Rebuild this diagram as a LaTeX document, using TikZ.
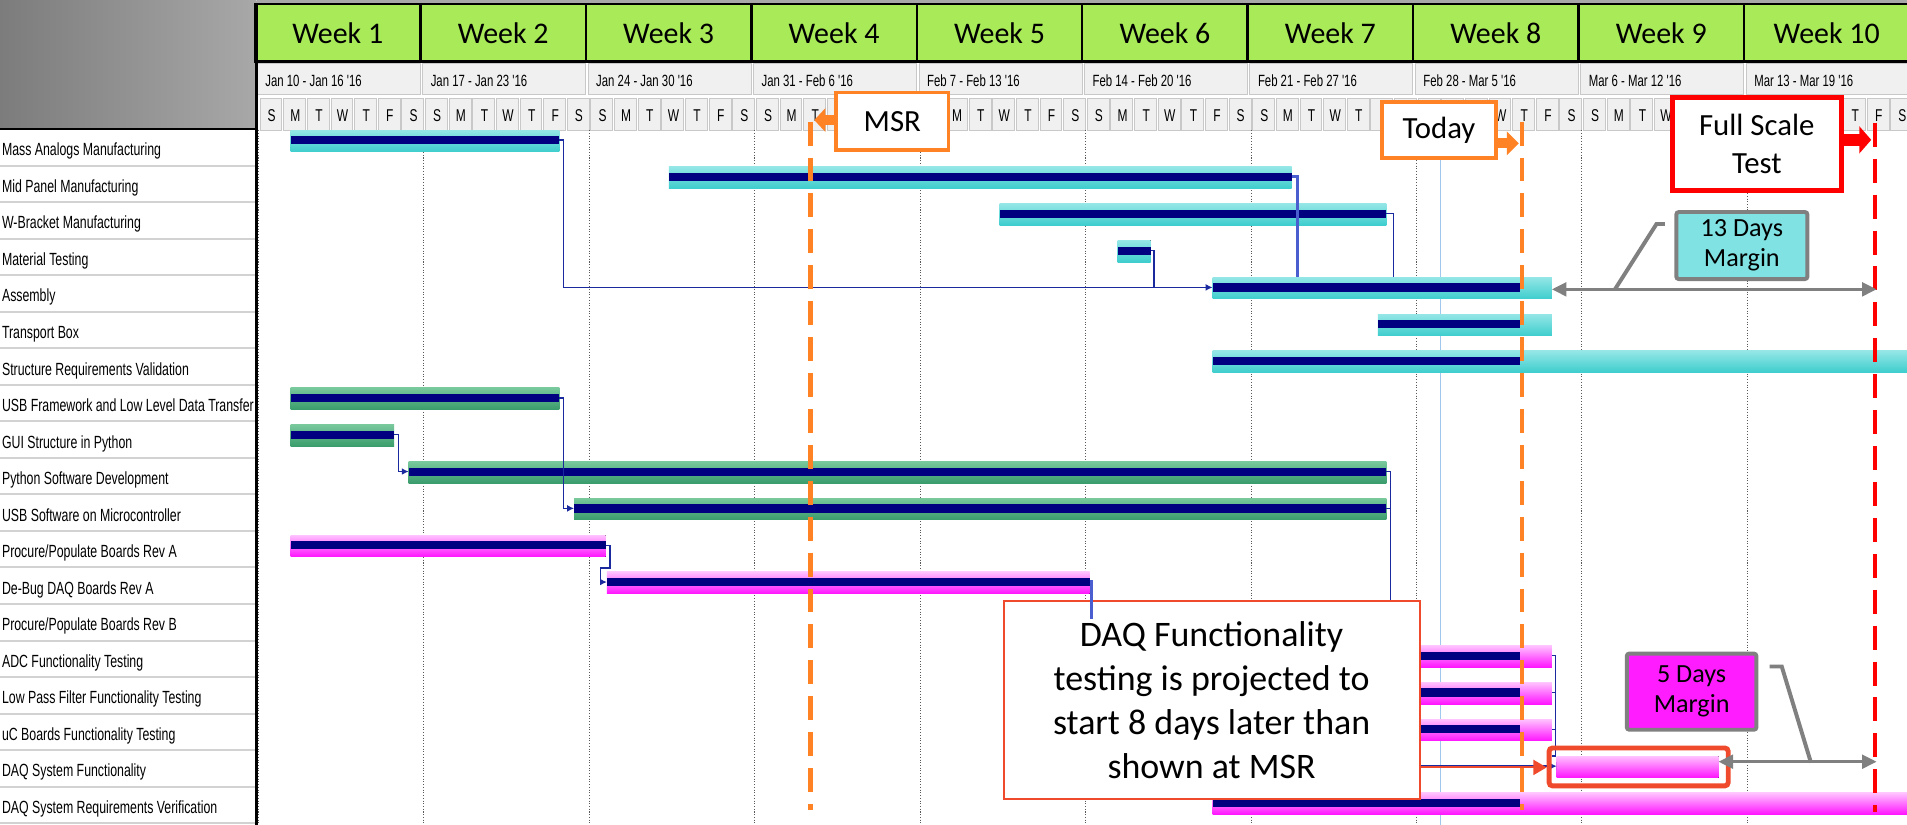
\documentclass[tikz,border=0pt]{standalone}
\usepackage{fontspec}
\usetikzlibrary{arrows.meta}
\newfontfamily\ganttfont[FakeStretch=0.7]{Liberation Sans}
\newfontfamily\callfont{Carlito}

\definecolor{weekgreen}{HTML}{A9EA58}
\definecolor{cellgray}{HTML}{F0F0F0}
\definecolor{celledge}{HTML}{C8C8C8}
\definecolor{rowline}{HTML}{D2D2D2}
\definecolor{leftgray}{HTML}{7C7C7C}
\definecolor{rightgray}{HTML}{A8A8A8}
\definecolor{cyantop}{HTML}{94E6E6}
\definecolor{cyanbot}{HTML}{3ECDCD}
\definecolor{greentop}{HTML}{78C89C}
\definecolor{greenbot}{HTML}{3A9C6C}
\definecolor{magtop}{HTML}{FFC2FF}
\definecolor{magbot}{HTML}{FF14FF}
\definecolor{progress}{HTML}{000080}
\definecolor{linkblue}{HTML}{1A2A9E}
\definecolor{linklight}{HTML}{4A5ED0}
\definecolor{statusblue}{HTML}{A0C8EE}
\definecolor{msrorange}{HTML}{FF8224}
\definecolor{fstred}{HTML}{FF0000}
\definecolor{daqred}{HTML}{F04A2C}
\definecolor{margingray}{HTML}{808080}
\definecolor{margincyan}{HTML}{80E2E2}
\definecolor{marginmag}{HTML}{FF1CFF}

%% one task bar: row, start, end, end of progress, colour
\newcommand{\ganttbar}[5]{%
  \pgfmathsetmacro{\bartop}{106.9+30.28*(#1-1)}
  \fill[top color=#5top, bottom color=#5bot] (#2,\bartop) rectangle (#3,\bartop+17.8);
  \fill[progress] (#2,\bartop+5) rectangle (#4,\bartop+11.7);
  \coordinate (b#1t) at (#2,\bartop);
  \coordinate (b#1s) at (#2,\bartop+8.3);
  \coordinate (b#1e) at (#3,\bartop+8.3);
}

\begin{document}
\begin{tikzpicture}[x=0.025cm, y=-0.025cm,
    weekcell/.style={fill=weekgreen, draw=black, line width=1.4pt},
    weeklabel/.style={font=\callfont\fontsize{17.5}{20}\selectfont},
    datecell/.style={fill=cellgray, draw=celledge, line width=0.5pt},
    datelabel/.style={anchor=base west, inner sep=0pt, font=\ganttfont\fontsize{9.5}{11}\selectfont},
    daylabel/.style={anchor=base, inner sep=0pt, font=\ganttfont\fontsize{10}{12}\selectfont},
    rowlabel/.style={anchor=base west, inner sep=0pt, font=\ganttfont\fontsize{10.3}{12}\selectfont},
    gridline/.style={densely dotted, draw=black!65, line width=0.6pt},
    link/.style={draw=linkblue, line width=0.8pt},
    linkarrow/.style={link, -{Latex[length=4pt,width=4pt]}},
    callout/.style={fill=white, inner sep=0pt, align=center, font=\callfont\fontsize{18}{22}\selectfont},
    marginbox/.style={draw=margingray, line width=2.3pt, rounded corners=1.5pt, inner sep=0pt, align=center, font=\callfont\fontsize{15.3}{17.6}\selectfont},
    marginarrow/.style={draw=margingray, line width=1.8pt, {Triangle[length=8.5pt,width=8pt]}-{Triangle[length=8.5pt,width=8pt]}},
    leader/.style={draw=margingray, line width=2.3pt},
    milestone/.style={dash pattern=on 14pt off 7pt, line width=2.5pt},
  ]
    \useasboundingbox (0,0) rectangle (1568,678);
    \clip (0,0) rectangle (1568,678);

    %% background
    \fill[white] (0,0) rectangle (1568,678);
    \shade[left color=leftgray, right color=rightgray] (0,0) rectangle (211,106.1);
    \fill[rightgray] (211,0) rectangle (1568,3.3);

    %% week header
    \foreach \w in {1,...,10} {
        \draw[weekcell] ({209.7+136.03*(\w-1)},3.3) rectangle ++(136.03,47.4);
        \node[weeklabel] (week\w) at ({277.7+136.03*(\w-1)},27.4) {Week \w};
    }

    %% date row
    \foreach \w/\dates in {1/Jan 10 - Jan 16 '16, 2/Jan 17 - Jan 23 '16,
        3/Jan 24 - Jan 30 '16, 4/Jan 31 - Feb 6 '16, 5/Feb 7 - Feb 13 '16,
        6/Feb 14 - Feb 20 '16, 7/Feb 21 - Feb 27 '16, 8/Feb 28 - Mar 5 '16,
        9/Mar 6 - Mar 12 '16, 10/Mar 13 - Mar 19 '16} {
        \draw[datecell] ({211.5+136.03*(\w-1)},52) rectangle ++(134,26);
        \node[datelabel] (dates\w) at ({217.9+136.03*(\w-1)},71.3) {\dates};
    }

    %% day row (letters under the callouts are hidden)
    \foreach \w in {1,...,10} {
        \foreach \d/\letter in {0/S,1/M,2/T,3/W,4/T,5/F,6/S} {
            \pgfmathsetmacro{\cx}{223.4+136.03*(\w-1)+19.433*\d}
            \draw[datecell] (\cx-9.6,81) rectangle ++(18,26);
            \pgfmathparse{((\cx>684 && \cx<782) || (\cx>1133 && \cx<1232) || (\cx>1372 && \cx<1517)) ? 0 : 1}
            \ifnum\pgfmathresult=1
                \node[daylabel] (day\w-\d) at (\cx,100) {\letter};
            \fi
        }
    }

    %% task names
    \fill[white] (0,106.1) rectangle (211,678);
    \foreach \k in {2,...,20}
        \draw[rowline, line width=1.2pt] (0,{106.1+30.04*(\k-1)}) -- (210,{106.1+30.04*(\k-1)});
    \foreach \name [count=\k] in {Mass Analogs Manufacturing, Mid Panel Manufacturing,
        W-Bracket Manufacturing, Material Testing, Assembly, Transport Box,
        Structure Requirements Validation, USB Framework and Low Level Data Transfer,
        GUI Structure in Python, Python Software Development,
        USB Software on Microcontroller, Procure/Populate Boards Rev A,
        De-Bug DAQ Boards Rev A, Procure/Populate Boards Rev B,
        ADC Functionality Testing, Low Pass Filter Functionality Testing,
        uC Boards Functionality Testing, DAQ System Functionality,
        DAQ System Requirements Verification}
        \node[rowlabel] (task\k) at (1.4,{106.1+30.04*(\k-1)+22}) {\name};
    \draw[line width=1.4pt] (0,106.1) -- (210.8,106.1);
    \draw[line width=1.4pt] (210.8,3.3) -- (210.8,678);

    %% grid and status date
    \foreach \w in {1,...,10}
        \draw[gridline] ({212.5+136.03*(\w-1)},107) -- ++(0,571);
    \draw[statusblue, line width=0.9pt] (1184.6,107) -- (1184.6,678);

    %% bars
    \ganttbar{1}{239}{460}{460}{cyan}
    \ganttbar{2}{550}{1062}{1062}{cyan}
    \ganttbar{3}{822}{1140}{1140}{cyan}
    \ganttbar{4}{919}{946}{946}{cyan}
    \ganttbar{5}{997}{1276}{1250}{cyan}
    \ganttbar{6}{1133}{1276}{1250}{cyan}
    \ganttbar{7}{997}{1580}{1250}{cyan}
    \ganttbar{8}{239}{460}{460}{green}
    \ganttbar{9}{239}{324}{324}{green}
    \ganttbar{10}{336}{1140}{1140}{green}
    \ganttbar{11}{472}{1140}{1140}{green}
    \ganttbar{12}{239}{498}{498}{mag}
    \ganttbar{13}{499}{896}{896}{mag}
    \ganttbar{15}{1100}{1276}{1250}{mag}
    \ganttbar{16}{1100}{1276}{1250}{mag}
    \ganttbar{17}{1100}{1276}{1250}{mag}
    \ganttbar{18}{1280}{1413}{1280}{mag}
    \ganttbar{19}{997}{1580}{1250}{mag}

    %% links
    \draw[linkarrow] (b1e) -- ++(3.5,0) |- (b5s);
    \draw[draw=linklight, line width=1.8pt] (b2e) -- ++(5,0) coordinate (c2) -- (c2 |- b5t);
    \draw[link] (b3e) -- ++(6,0) coordinate (c3) -- (c3 |- b5t);
    \draw[link] (b4e) -- ++(3,0) coordinate (c4) -- (c4 |- b5s);
    \draw[linkarrow] (b8e) -- ++(3.5,0) |- (b11s);
    \draw[linkarrow] (b9e) -- ++(3.5,0) |- (b10s);
    \draw[link] (b10e) -- ++(3.5,0) -- ++(0,140);
    \draw[link] (b11e) -- ++(3.5,0);
    \draw[linkarrow] (b12e) -- ++(3.5,0) -- ++(0,18.7) -- ++(-7.5,0) |- (b13s);
    \draw[link] (b15e) -- ++(3,0) coordinate (c15) -- (c15 |- b18t) -- ++(-3,0);
    \draw[link] (b16e) -- ++(3,0);
    \draw[link] (b17e) -- ++(3,0);

    %% milestone lines
    \coordinate (msrx) at (666.5,100);
    \coordinate (todayx) at (1251.5,100);
    \coordinate (fstx) at (1541.5,101);
    \draw[milestone, msrorange] (msrx) -- ++(0,566);
    \draw[milestone, msrorange] (todayx) -- ++(0,566);
    \draw[milestone, fstred] (fstx) -- ++(0,567);

    %% DAQ note
    \node[callout, draw=daqred, line width=1.1pt, minimum width=8.55cm, minimum height=4.075cm,
        font=\callfont\fontsize{21}{25.7}\selectfont] (daq) at (996.2,575.5)
        {DAQ Functionality\\testing is projected to\\start 8 days later than\\shown at MSR};
    \draw[draw=linklight, line width=1.8pt] (b13e) -- ++(1.5,0) -- ++(0,30);
    \draw[linkarrow] (daq.east |- b18s) -- (b18s);
    \coordinate (hlw) at (1271.7,631);
    \draw[daqred, line width=1.2pt, -{Triangle[length=7.8pt,width=8.8pt]}] (daq.east |- hlw) -- (hlw);
    \draw[daqred, line width=2.85pt, rounded corners=2pt] (1273.7,615) rectangle (1421,646.2);

    %% margins
    \coordinate (gap13a) at (1276,237.9);
    \coordinate (gap13b) at (1543,237.9);
    \coordinate (gap5a) at (1413,626.3);
    \coordinate (gap5b) at (1543,626.3);
    \draw[marginarrow] (gap13a) -- (gap13b);
    \draw[marginarrow] (gap5a) -- (gap5b);
    \coordinate (lead13) at (1369,184.2);
    \coordinate (foot13) at (1328,237.7);
    \coordinate (lead5) at (1455,548);
    \coordinate (foot5) at (1489,627);
    \draw[leader] (lead13) -- ++(-7,0) -- (foot13);
    \draw[leader] (lead5) -- ++(10,0) -- (foot5);
    \node[marginbox, fill=margincyan, minimum width=2.695cm, minimum height=1.378cm] (m13)
        at (1432.2,201.9) {13 Days\\Margin};
    \node[marginbox, fill=marginmag, minimum width=2.665cm, minimum height=1.565cm] (m5)
        at (1390.9,568.7) {5 Days\\Margin};

    %% milestone callouts
    \node[callout, draw=msrorange, line width=2.1pt, minimum width=2.31cm, minimum height=1.18cm]
        (msr) at (733.7,99.6) {MSR};
    \node[callout, draw=msrorange, line width=2.1pt, minimum width=2.35cm, minimum height=1.16cm]
        (today) at (1183.2,106.9) {Today};
    \node[callout, draw=fstred, line width=2.8pt, minimum width=3.48cm, minimum height=1.91cm]
        (fst) at (1444.5,118.2) {Full Scale\\Test};
    \coordinate (msrtip) at (669.5,98.7);
    \coordinate (todaytip) at (1248.8,117.8);
    \coordinate (fsttip) at (1538.6,115);
    \draw[msrorange, line width=5.5pt, -{Triangle[length=6.5pt,width=13.5pt]}] (msr.west |- msrtip) -- (msrtip);
    \draw[msrorange, line width=5.7pt, -{Triangle[length=7pt,width=13.5pt]}] (today.east |- todaytip) -- (todaytip);
    \draw[fstred, line width=7pt, -{Triangle[length=7pt,width=15.6pt]}] (fst.east |- fsttip) -- (fsttip);
\end{tikzpicture}
\end{document}
